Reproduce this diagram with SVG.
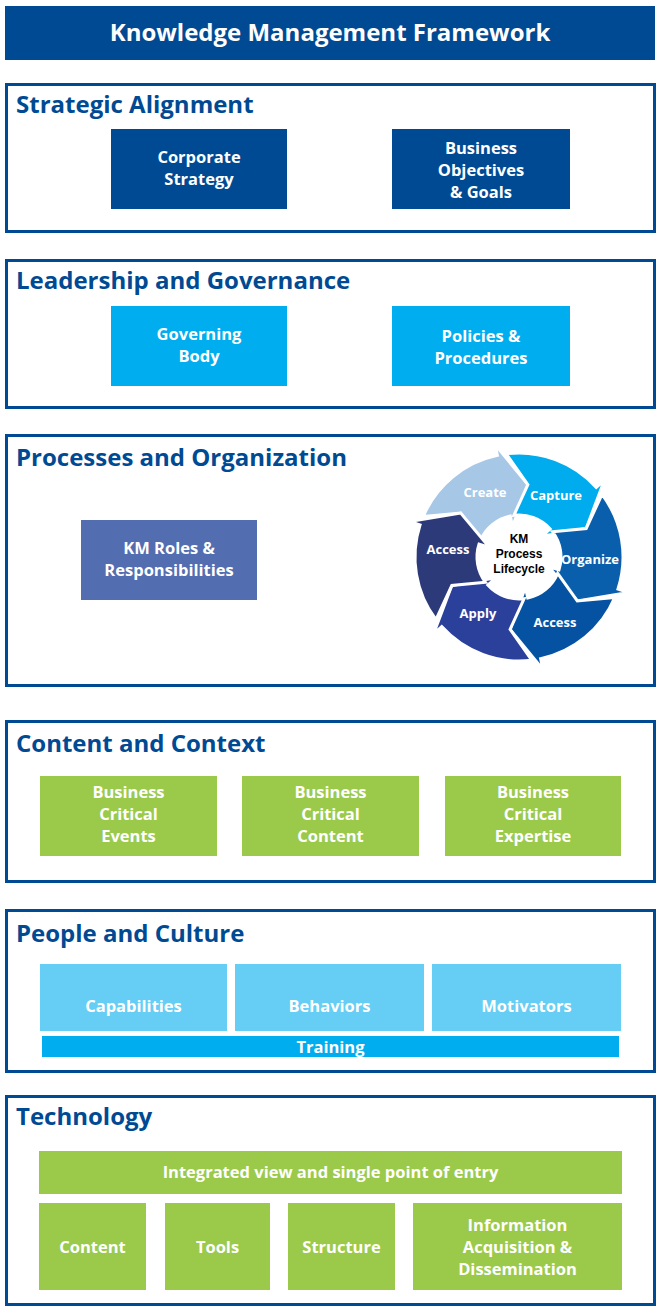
<svg xmlns="http://www.w3.org/2000/svg" width="660" height="1310" viewBox="0 0 660 1310">
<style>
text{font-family:"Open Sans","Liberation Sans",sans-serif;font-weight:bold;}
.sec{fill:#fff;stroke:#004a93;stroke-width:3;}
.st{fill:#004a93;font-size:24px;}
.bt{fill:#fff;font-size:16.5px;text-anchor:middle;}
.cl{fill:#fff;font-size:13px;text-anchor:middle;}
.navy{fill:#004a93;}
.cyan{fill:#00adef;}
.lcyan{fill:#66cdf4;}
.green{fill:#9bca4a;}
.seg{stroke:#fff;stroke-width:3;stroke-linejoin:miter;}
</style>
<defs>
<path id="segshape" d="M -85.22 -59.61 A 104 104 0 0 1 0 -104 L 0 -115 L 23.77 -69.02 L 0 -31 L 0 -42 A 42 42 0 0 0 -34.41 -24.07 L -47.89 -55.09 Z"/>
</defs>
<rect width="660" height="1310" fill="#fff"/>

<g id="title">
<rect x="5" y="6" width="650" height="54" class="navy"/>
<text x="330" y="41" fill="#fff" font-size="24" text-anchor="middle">Knowledge Management Framework</text>
</g>

<g id="strategic-alignment">
<rect x="6.5" y="84.5" width="648" height="147" class="sec"/>
<text x="16" y="113" class="st">Strategic Alignment</text>
</g>
<g id="corporate-strategy">
<rect x="111" y="129" width="176" height="80" class="navy"/>
<text class="bt"><tspan x="199" y="163">Corporate</tspan><tspan x="199" y="185">Strategy</tspan></text>
</g>
<g id="business-objectives">
<rect x="392" y="129" width="178" height="80" class="navy"/>
<text class="bt"><tspan x="481" y="154">Business</tspan><tspan x="481" y="176">Objectives</tspan><tspan x="481" y="198">&amp; Goals</tspan></text>
</g>

<g id="leadership-governance">
<rect x="6.5" y="260.5" width="648" height="147" class="sec"/>
<text x="16" y="289" class="st">Leadership and Governance</text>
</g>
<g id="governing-body">
<rect x="111" y="306" width="176" height="80" class="cyan"/>
<text class="bt"><tspan x="199" y="340">Governing</tspan><tspan x="199" y="362">Body</tspan></text>
</g>
<g id="policies-procedures">
<rect x="392" y="306" width="178" height="80" class="cyan"/>
<text class="bt"><tspan x="481" y="342">Policies &amp;</tspan><tspan x="481" y="364">Procedures</tspan></text>
</g>

<g id="processes-organization">
<rect x="6.5" y="435.5" width="648" height="250" class="sec"/>
<text x="16" y="466" class="st">Processes and Organization</text>
</g>
<g id="km-roles">
<rect x="81" y="520" width="176" height="80" fill="#536db1"/>
<text class="bt"><tspan x="169" y="554">KM Roles &amp;</tspan><tspan x="169" y="576">Responsibilities</tspan></text>
</g>

<g id="km-lifecycle">
<g id="seg-create">
<use href="#segshape" class="seg" fill="#a7c7e7" transform="translate(519 557) rotate(348)"/>
<text x="485" y="497" class="cl">Create</text>
</g>
<g id="seg-capture">
<use href="#segshape" class="seg" fill="#00aced" transform="translate(519 557) rotate(48)"/>
<text x="556" y="500" class="cl">Capture</text>
</g>
<g id="seg-organize">
<use href="#segshape" class="seg" fill="#0a5fad" transform="translate(519 557) rotate(108)"/>
<text x="590" y="564" class="cl" font-size="12">Organize</text>
</g>
<g id="seg-access1">
<use href="#segshape" class="seg" fill="#0652a2" transform="translate(519 557) rotate(168)"/>
<text x="555" y="627" class="cl">Access</text>
</g>
<g id="seg-apply">
<use href="#segshape" class="seg" fill="#2b409a" transform="translate(519 557) rotate(228)"/>
<text x="478" y="618" class="cl">Apply</text>
</g>
<g id="seg-access2">
<use href="#segshape" class="seg" fill="#2d3a7a" transform="translate(519 557) rotate(288)"/>
<text x="448" y="554" class="cl">Access</text>
</g>
<text text-anchor="middle" fill="#000" font-size="12" style="font-family:'Liberation Sans',Arial,sans-serif"><tspan x="519" y="543">KM</tspan><tspan x="519" y="558">Process</tspan><tspan x="519" y="573">Lifecycle</tspan></text>
</g>

<g id="content-context">
<rect x="6.5" y="721.5" width="648" height="160" class="sec"/>
<text x="16" y="752" class="st">Content and Context</text>
</g>
<g id="bc-events">
<rect x="40" y="776" width="177" height="80" class="green"/>
<text class="bt"><tspan x="128.5" y="798">Business</tspan><tspan x="128.5" y="820">Critical</tspan><tspan x="128.5" y="842">Events</tspan></text>
</g>
<g id="bc-content">
<rect x="242" y="776" width="177" height="80" class="green"/>
<text class="bt"><tspan x="330.5" y="798">Business</tspan><tspan x="330.5" y="820">Critical</tspan><tspan x="330.5" y="842">Content</tspan></text>
</g>
<g id="bc-expertise">
<rect x="445" y="776" width="176" height="80" class="green"/>
<text class="bt"><tspan x="533" y="798">Business</tspan><tspan x="533" y="820">Critical</tspan><tspan x="533" y="842">Expertise</tspan></text>
</g>

<g id="people-culture">
<rect x="6.5" y="910.5" width="648" height="161" class="sec"/>
<text x="16" y="942" class="st">People and Culture</text>
</g>
<g id="capabilities">
<rect x="40" y="964" width="187" height="67" class="lcyan"/>
<text x="133.5" y="1012" class="bt">Capabilities</text>
</g>
<g id="behaviors">
<rect x="235" y="964" width="189" height="67" class="lcyan"/>
<text x="329.5" y="1012" class="bt">Behaviors</text>
</g>
<g id="motivators">
<rect x="432" y="964" width="189" height="67" class="lcyan"/>
<text x="526.5" y="1012" class="bt">Motivators</text>
</g>
<g id="training">
<rect x="42" y="1036" width="577" height="21" class="cyan"/>
<text x="330.5" y="1053" class="bt" font-size="15.5">Training</text>
</g>

<g id="technology">
<rect x="6.5" y="1096.5" width="648" height="208" class="sec"/>
<text x="16" y="1125" class="st">Technology</text>
</g>
<g id="integrated-view">
<rect x="39" y="1151" width="583" height="43" class="green"/>
<text x="330.5" y="1178" class="bt">Integrated view and single point of entry</text>
</g>
<g id="tech-content">
<rect x="39" y="1203" width="107" height="87" class="green"/>
<text x="92.5" y="1253" class="bt">Content</text>
</g>
<g id="tech-tools">
<rect x="165" y="1203" width="105" height="87" class="green"/>
<text x="217.5" y="1253" class="bt">Tools</text>
</g>
<g id="tech-structure">
<rect x="288" y="1203" width="107" height="87" class="green"/>
<text x="341.5" y="1253" class="bt">Structure</text>
</g>
<g id="tech-info">
<rect x="413" y="1203" width="209" height="87" class="green"/>
<text class="bt"><tspan x="517.5" y="1231">Information</tspan><tspan x="517.5" y="1253">Acquisition &amp;</tspan><tspan x="517.5" y="1275">Dissemination</tspan></text>
</g>
</svg>
